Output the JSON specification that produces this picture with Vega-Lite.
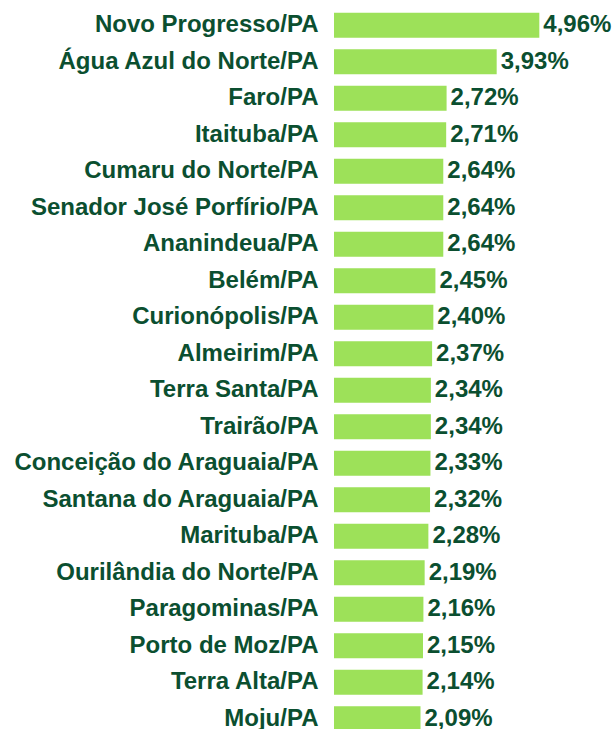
{
  "$schema": "https://vega.github.io/schema/vega-lite/v6.json",
  "autosize": "none",
  "width": 279,
  "height": 730,
  "padding": {"left": 334, "top": 7, "right": 0, "bottom": 0},
  "background": "white",
  "config": {"view": {"stroke": null}},
  "data": {"values": [
    {"municipio": "Novo Progresso/PA", "valor": 4.96, "rotulo": "4,96%"},
    {"municipio": "Água Azul do Norte/PA", "valor": 3.93, "rotulo": "3,93%"},
    {"municipio": "Faro/PA", "valor": 2.72, "rotulo": "2,72%"},
    {"municipio": "Itaituba/PA", "valor": 2.71, "rotulo": "2,71%"},
    {"municipio": "Cumaru do Norte/PA", "valor": 2.64, "rotulo": "2,64%"},
    {"municipio": "Senador José Porfírio/PA", "valor": 2.64, "rotulo": "2,64%"},
    {"municipio": "Ananindeua/PA", "valor": 2.64, "rotulo": "2,64%"},
    {"municipio": "Belém/PA", "valor": 2.45, "rotulo": "2,45%"},
    {"municipio": "Curionópolis/PA", "valor": 2.40, "rotulo": "2,40%"},
    {"municipio": "Almeirim/PA", "valor": 2.37, "rotulo": "2,37%"},
    {"municipio": "Terra Santa/PA", "valor": 2.34, "rotulo": "2,34%"},
    {"municipio": "Trairão/PA", "valor": 2.34, "rotulo": "2,34%"},
    {"municipio": "Conceição do Araguaia/PA", "valor": 2.33, "rotulo": "2,33%"},
    {"municipio": "Santana do Araguaia/PA", "valor": 2.32, "rotulo": "2,32%"},
    {"municipio": "Marituba/PA", "valor": 2.28, "rotulo": "2,28%"},
    {"municipio": "Ourilândia do Norte/PA", "valor": 2.19, "rotulo": "2,19%"},
    {"municipio": "Paragominas/PA", "valor": 2.16, "rotulo": "2,16%"},
    {"municipio": "Porto de Moz/PA", "valor": 2.15, "rotulo": "2,15%"},
    {"municipio": "Terra Alta/PA", "valor": 2.14, "rotulo": "2,14%"},
    {"municipio": "Moju/PA", "valor": 2.09, "rotulo": "2,09%"}
  ]},
  "encoding": {
    "y": {
      "field": "municipio", "type": "nominal", "sort": null,
      "scale": {"paddingInner": 0.315, "paddingOuter": 0.1575},
      "axis": {
        "title": null, "ticks": false, "domain": false,
        "labelFont": "Liberation Sans", "labelFontSize": 24, "labelFontWeight": "bold",
        "labelColor": "#0b4f30", "labelPadding": 16, "labelLimit": 400
      }
    },
    "x": {
      "field": "valor", "type": "quantitative",
      "scale": {"domain": [0, 6.74], "nice": false},
      "axis": null
    }
  },
  "layer": [
    {"mark": {"type": "bar", "color": "#9de159"}},
    {
      "mark": {"type": "text", "align": "left", "baseline": "middle", "dx": 4,
               "font": "Liberation Sans", "fontSize": 24, "fontWeight": "bold", "color": "#0b4f30"},
      "encoding": {"text": {"field": "rotulo"}}
    }
  ]
}
